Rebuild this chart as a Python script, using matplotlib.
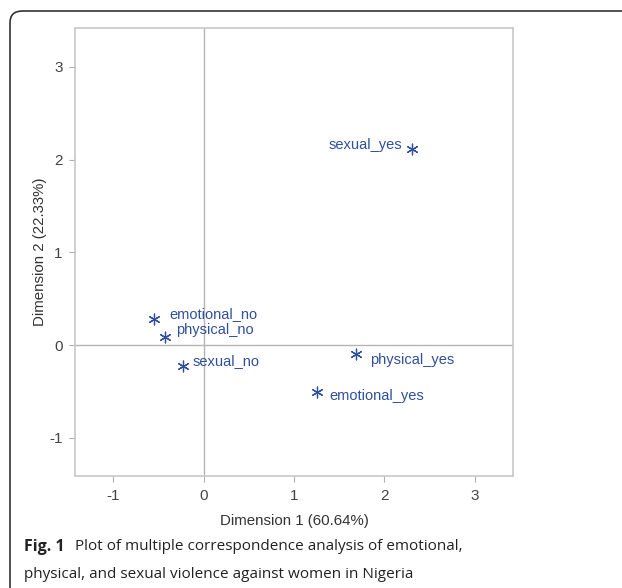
import matplotlib.pyplot as plt
from matplotlib.patches import FancyBboxPatch

# MCA category coordinates
categories = ['emotional_no', 'physical_no', 'sexual_no', 'physical_yes', 'emotional_yes', 'sexual_yes']
dim1 = [-0.55, -0.42, -0.23, 1.68, 1.25, 2.30]
dim2 = [0.28, 0.09, -0.22, -0.09, -0.50, 2.12]
ticks = [-1, 0, 1, 2, 3]
tick_labels = ['-1', '0', '1', '2', '3']

# label offsets in pixels (dx, dy) and alignment
offsets = {
    'emotional_no': (16, 5, 'left'),
    'physical_no': (11, 7, 'left'),
    'sexual_no': (10, 5, 'left'),
    'physical_yes': (15, -6, 'left'),
    'emotional_yes': (13, -4, 'left'),
    'sexual_yes': (-9, 4, 'right'),
}

blue = '#2f4f9c'
gray = '#444444'
font = 'Liberation Sans'

fig = plt.figure(figsize=(6.22, 5.88), dpi=100)
fig.patch.set_facecolor('white')

# rounded frame around figure + caption
frame = FancyBboxPatch((10 / 622, -0.2), 1.2, 1 - 11 / 588 + 0.2,
                       boxstyle='round,pad=0,rounding_size=0.02',
                       transform=fig.transFigure, fill=False,
                       edgecolor='#333333', linewidth=1.2, clip_on=False)
fig.patches.append(frame)

ax = fig.add_axes([75 / 622, 1 - 476 / 588, 438 / 622, 448 / 588])
ax.axhline(0, color='#b5b5b5', linewidth=1, zorder=1)
ax.axvline(0, color='#b5b5b5', linewidth=1, zorder=1)

ax.scatter(dim1, dim2, marker=(6, 2, 0), s=60, color=blue, linewidths=0.9, zorder=3)
for name, x, y in zip(categories, dim1, dim2):
    dx, dy, ha = offsets[name]
    ax.annotate(name, (x, y), xytext=(dx, dy), textcoords='offset pixels',
                ha=ha, va='center', color=blue, fontsize=10.5, family=font)

ax.set_xlim(-1.42, 3.42)
ax.set_ylim(-1.41, 3.42)
ax.set_xticks(ticks, tick_labels)
ax.set_yticks(ticks, tick_labels)
for s in ax.spines.values():
    s.set_color('#c8c8c8')
    s.set_linewidth(1.2)
ax.tick_params(direction='out', length=4, color='#b0b0b0', labelcolor=gray,
               labelsize=11, pad=5)
for lab in ax.get_xticklabels() + ax.get_yticklabels():
    lab.set_family(font)

ax.set_xlabel('Dimension 1 (60.64%)', fontsize=10.8, color='#333333',
              family=font, labelpad=8)
ax.set_ylabel('Dimension 2 (22.33%)', fontsize=10.8, color='#333333',
              family=font, labelpad=1.5)

# caption
cap = '#222222'
fig.text(24 / 622, 1 - 547 / 588, 'Fig. 1', fontsize=11.5, fontweight='bold',
         family='Open Sans', va='center', ha='left', color=cap)
fig.text(75 / 622, 1 - 547 / 588,
         'Plot of multiple correspondence analysis of emotional,',
         fontsize=11, family='Open Sans', va='center', ha='left', color=cap)
fig.text(24 / 622, 1 - 575 / 588,
         'physical, and sexual violence against women in Nigeria',
         fontsize=11, family='Open Sans', va='center', ha='left', color=cap)

fig.savefig('out.png', dpi=100)
